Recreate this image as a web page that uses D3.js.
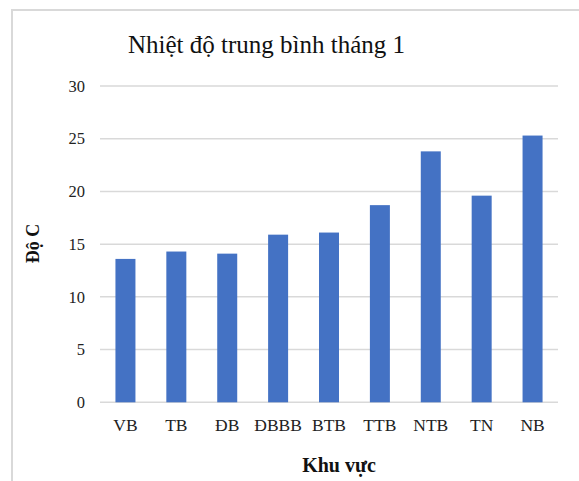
<!DOCTYPE html>
<html><head><meta charset="utf-8">
<script src="https://cdn.jsdelivr.net/npm/d3@7"></script>
<style>body{margin:0;background:#fff}svg{display:block}</style>
</head><body>
<script>
const categories = ["VB","TB","ĐB","ĐBBB","BTB","TTB","NTB","TN","NB"];
const values = [13.6,14.3,14.1,15.9,16.1,18.7,23.8,19.6,25.3];
const yTicks = [0,5,10,15,20,25,30];
const title = "Nhiệt độ trung bình tháng 1";
const xTitle = "Khu vực";
const yTitle = "Độ C";

const W=579,H=481;
const svg=d3.select("body").append("svg").attr("width",W).attr("height",H);
const font="'Liberation Serif','Times New Roman',serif";
// border
svg.append("path").attr("d","M12,481 L12,10 L579,10").attr("fill","none").attr("stroke","#d9d9d9").attr("stroke-width",2);

const x=d3.scaleBand().domain(categories).range([100,558]).paddingInner(0.607).paddingOuter(0.3035);
const y=d3.scaleLinear().domain([0,30]).range([402.3,86]);

const grid=svg.append("g");
grid.selectAll("line").data(yTicks).join("line")
 .attr("x1",100).attr("x2",558).attr("y1",d=>y(d)).attr("y2",d=>y(d))
 .attr("stroke","#d9d9d9").attr("stroke-width",1.5);

const yAxis=svg.append("g").attr("transform","translate(100,0)")
 .call(d3.axisLeft(y).tickValues(yTicks).tickSize(0).tickPadding(15));
yAxis.select(".domain").remove();
yAxis.selectAll("text").attr("font-family",font).attr("font-size",16.5).attr("fill","#222");

svg.append("g").selectAll("rect").data(values).join("rect")
 .attr("x",(d,i)=>x(categories[i])).attr("width",x.bandwidth())
 .attr("y",d=>y(d)).attr("height",d=>y(0)-y(d)).attr("fill","#4472c4");

const xAxis=svg.append("g").attr("transform","translate(0,402.3)")
 .call(d3.axisBottom(x).tickSize(0).tickPadding(16));
xAxis.select(".domain").remove();
xAxis.selectAll("text").attr("font-family",font).attr("font-size",17.5).attr("fill","#222");

svg.append("text").attr("x",266.5).attr("y",53).attr("text-anchor","middle")
 .attr("font-family",font).attr("font-size",25).attr("fill","#111").text(title);
svg.append("text").attr("x",339).attr("y",472).attr("text-anchor","middle")
 .attr("font-family",font).attr("font-size",20).attr("font-weight","bold").attr("fill","#111").text(xTitle);
svg.append("text").attr("transform","translate(39,243.5) rotate(-90)").attr("text-anchor","middle")
 .attr("font-family",font).attr("font-size",18).attr("font-weight","bold").attr("fill","#111").text(yTitle);
</script>
</body></html>
